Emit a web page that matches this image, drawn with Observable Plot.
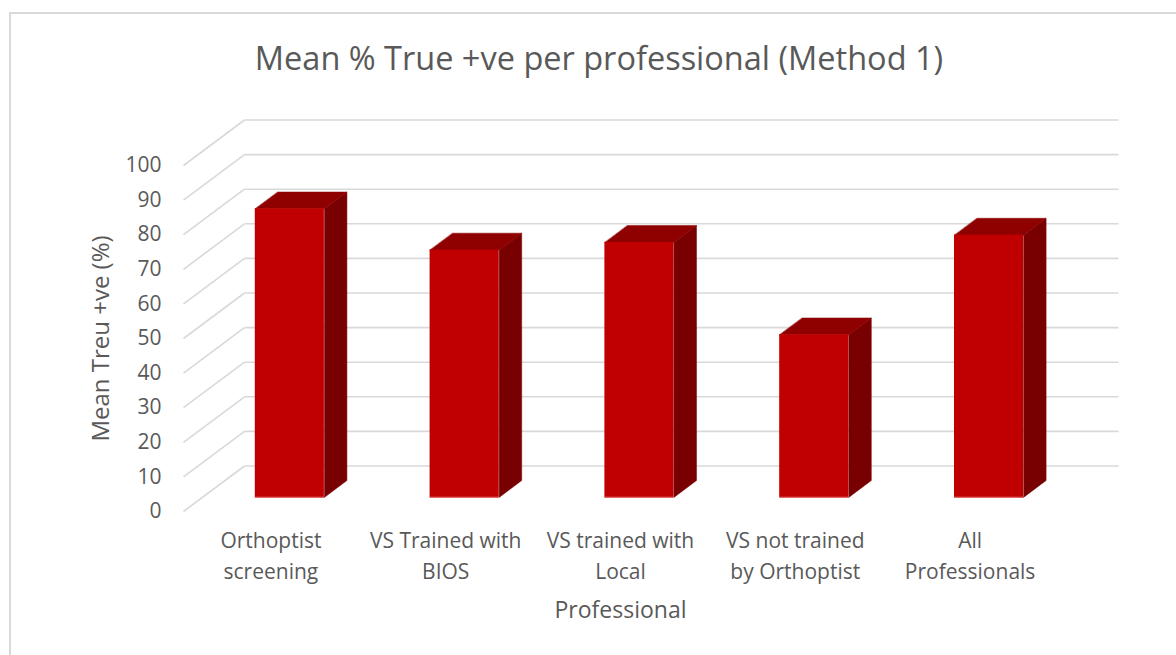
<!DOCTYPE html>
<html>
<head>
<meta charset="utf-8">
<script src="https://cdn.jsdelivr.net/npm/d3@7"></script>
<script src="https://cdn.jsdelivr.net/npm/@observablehq/plot@0.6"></script>
<style>
  html, body { margin: 0; padding: 0; background: #fff; width: 1176px; height: 655px; overflow: hidden; }
  #wrap { position: relative; width: 1176px; height: 655px; font-family: "Open Sans", sans-serif; }
  #border { position: absolute; left: 9px; top: 12px; width: 1200px; height: 700px; border: 2px solid #d9d9d9; box-sizing: border-box; }
  #title { position: absolute; left: 0; width: 1198px; top: 36px; text-align: center; font-size: 32.5px; color: #595959; line-height: 44px; }
  #chart { position: absolute; left: 0; top: 95px; }
</style>
</head>
<body>
<div id="wrap">
  <div id="border"></div>
  <div id="title">Mean % True +ve per professional (Method 1)</div>
  <div id="chart"></div>
</div>
<script>
const categories = ["Orthoptist\nscreening", "VS Trained with\nBIOS", "VS trained with\nLocal", "VS not trained\nby Orthoptist", "All\nProfessionals"];
const values = [83.4, 71.5, 73.7, 47.0, 75.8];
const yTicks = [0, 10, 20, 30, 40, 50, 60, 70, 80, 90, 100];
const yLabel = "Mean Treu +ve (%)";
const xLabel = "Professional";

// oblique depth vector in data units (x: category units, y: value units)
const DX = 0.349, DY = 13.15;
const F = 0.31, G = 0.68;   // bar front/back depth fractions
const W = 0.395;            // bar width in category units

const bars = values.map((v, i) => ({i, v}));
const topPts = [], sidePts = [];
bars.forEach(({i, v}) => {
  const xl = i - W / 2, xr = i + W / 2;
  topPts.push(
    {id: i, x: xl + F * DX, y: v + F * DY},
    {id: i, x: xr + F * DX, y: v + F * DY},
    {id: i, x: xr + G * DX, y: v + G * DY},
    {id: i, x: xl + G * DX, y: v + G * DY});
  sidePts.push(
    {id: i, x: xr + F * DX, y: F * DY},
    {id: i, x: xr + G * DX, y: G * DY},
    {id: i, x: xr + G * DX, y: v + G * DY},
    {id: i, x: xr + F * DX, y: v + F * DY});
});

const grid = "#d9d9d9";
const plot = Plot.plot({
  width: 1176,
  height: 560,
  marginLeft: 183,
  marginRight: 119,
  marginTop: 70,
  marginBottom: 144,
  style: {background: "transparent", overflow: "visible", fontFamily: "Open Sans, sans-serif"},
  x: {type: "linear", domain: [-0.5, 4.5], axis: null},
  y: {domain: [0, 100], axis: null},
  marks: [
    // side wall diagonals
    Plot.link(yTicks, {x1: -0.5, y1: d => d, x2: -0.5 + DX, y2: d => d + DY, stroke: grid, strokeWidth: 1.6}),
    // back wall gridlines
    Plot.link(yTicks, {x1: -0.5 + DX, y1: d => d + DY, x2: 4.5 + DX, y2: d => d + DY, stroke: grid, strokeWidth: 1.6}),
    // bar faces
    Plot.line(sidePts, {x: "x", y: "y", z: "id", fill: "#780000", stroke: "#780000", strokeWidth: 0.5, curve: "linear-closed"}),
    Plot.line(topPts, {x: "x", y: "y", z: "id", fill: "#8f0000", stroke: "#8f0000", strokeWidth: 0.5, curve: "linear-closed"}),
    Plot.rect(bars, {x1: d => d.i - W / 2 + F * DX, x2: d => d.i + W / 2 + F * DX, y1: F * DY, y2: d => d.v + F * DY, fill: "#c00000"}),
    Plot.ruleY(bars, {x1: d => d.i - W / 2 + F * DX, x2: d => d.i + W / 2 + F * DX, y: F * DY, stroke: "#e05050", strokeWidth: 1}),
    // y tick labels
    Plot.text(yTicks, {x: -0.5, y: d => d, text: d => String(d), textAnchor: "end", dx: -22, fontSize: 21, fill: "#595959"}),
    // x tick labels
    Plot.text(categories, {x: (d, i) => i, y: 0, text: d => d, lineAnchor: "top", lineHeight: 1.45, dy: 15, fontSize: 21, fill: "#595959"}),
    // axis titles
    Plot.text([yLabel], {frameAnchor: "left", text: d => d, rotate: -90, textAnchor: "middle", dx: -82, fontSize: 24, fill: "#595959"}),
    Plot.text([xLabel], {frameAnchor: "bottom", text: d => d, textAnchor: "middle", dx: 0, dy: 106, fontSize: 23, fill: "#595959"})
  ]
});
document.getElementById("chart").appendChild(plot);
</script>
</body>
</html>
